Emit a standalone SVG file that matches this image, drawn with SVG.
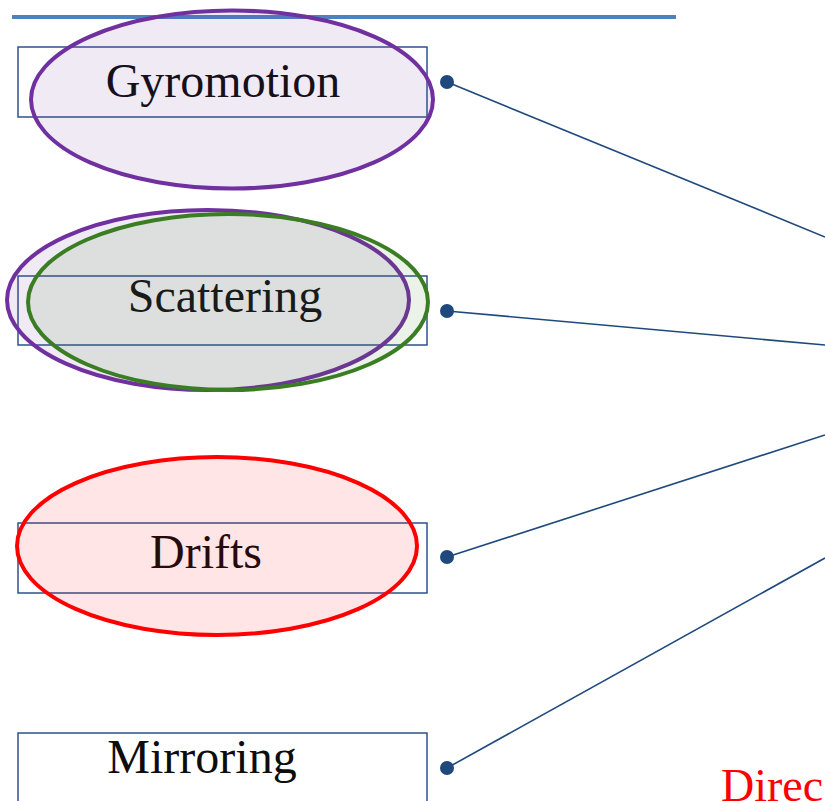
<svg xmlns="http://www.w3.org/2000/svg" width="825" height="801" viewBox="0 0 825 801">
<style>
.box{fill:none;stroke:#2f528f;stroke-width:1.5}
.lbl{font-family:"Liberation Serif","Times New Roman",serif;font-size:48px;fill:#0d0d0d;text-anchor:middle}
.conn{stroke:#1f497d;stroke-width:1.6;fill:none}
.dot{fill:#1f497d}
</style>
<rect width="825" height="801" fill="#ffffff"/>
<line x1="12" y1="17" x2="676" y2="17" stroke="#4f81bd" stroke-width="4"/>
<g id="connectors">
<line class="conn" x1="447" y1="82" x2="825" y2="237"/>
<line class="conn" x1="447" y1="311" x2="825" y2="345"/>
<line class="conn" x1="447" y1="557" x2="825" y2="435"/>
<line class="conn" x1="447" y1="768" x2="825" y2="558"/>
<circle class="dot" cx="447" cy="82" r="7"/>
<circle class="dot" cx="447" cy="311" r="7"/>
<circle class="dot" cx="447" cy="557" r="7"/>
<circle class="dot" cx="447" cy="768" r="7"/>
</g>
<g id="gyromotion">
<rect class="box" x="18" y="47" width="409" height="70"/>
<text class="lbl" x="223" y="97">Gyromotion</text>
<ellipse cx="232" cy="99.5" rx="201" ry="89" fill="#7030a0" fill-opacity="0.1" stroke="#7030a0" stroke-width="4"/>
</g>
<g id="scattering">
<rect class="box" x="18" y="276" width="409" height="69"/>
<text class="lbl" x="225" y="312">Scattering</text>
<ellipse cx="208" cy="300" rx="201" ry="90" fill="#7030a0" fill-opacity="0.1" stroke="#7030a0" stroke-width="4"/>
<ellipse cx="228" cy="302" rx="200" ry="88" fill="#3a7d22" fill-opacity="0.1" stroke="#3a7d22" stroke-width="4"/>
</g>
<g id="drifts">
<rect class="box" x="18" y="523" width="409" height="70"/>
<text class="lbl" x="206" y="568">Drifts</text>
<ellipse cx="217" cy="546" rx="200" ry="89" fill="#ff0000" fill-opacity="0.1" stroke="#ff0000" stroke-width="4"/>
</g>
<g id="mirroring">
<rect class="box" x="18" y="733" width="409" height="80"/>
<text class="lbl" x="202" y="773">Mirroring</text>
</g>
<text x="721" y="801" font-family="'Liberation Serif','Times New Roman',serif" font-size="46" fill="#ff0000">Direc</text>
</svg>
